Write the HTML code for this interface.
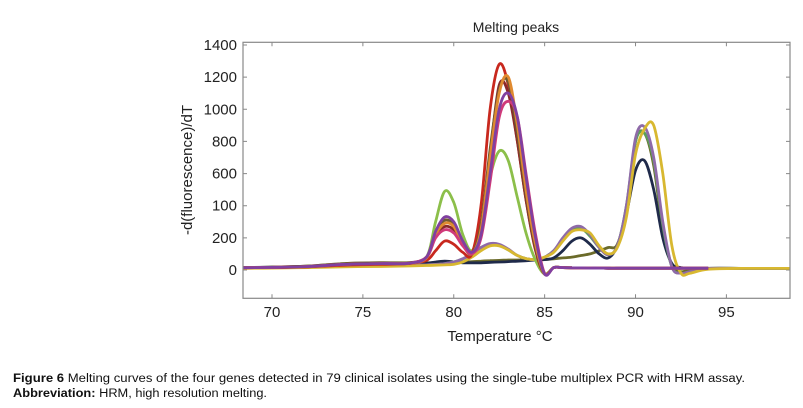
<!DOCTYPE html>
<html><head><meta charset="utf-8"><style>
body{margin:0;background:#fff;width:803px;height:408px;overflow:hidden}
svg{display:block}
</style></head><body>
<svg id="chart" width="803" height="408" font-family="Liberation Sans, sans-serif">
<text x="516" y="32" font-size="14" text-anchor="middle" fill="#222">Melting peaks</text>
<text transform="translate(192,170) rotate(-90)" font-size="15" text-anchor="middle" fill="#222">-d(fluorescence)/dT</text>
<text x="500" y="341" font-size="15" text-anchor="middle" fill="#222">Temperature °C</text>
<g id="axes"></g>
<g id="series" clip-path="url(#clip)"></g>
<defs><clipPath id="clip"><rect x="243" y="42" width="547" height="256"/></clipPath></defs>
<rect x="243" y="42.3" width="547" height="256" fill="none" stroke="#888" stroke-width="1.2"/>
<text x="13" y="382" font-size="11.5" fill="#111" textLength="732" lengthAdjust="spacingAndGlyphs"><tspan font-weight="bold">Figure 6</tspan> Melting curves of the four genes detected in 79 clinical isolates using the single-tube multiplex PCR with HRM assay.</text>
<text x="13" y="397" font-size="11.5" fill="#111" textLength="254" lengthAdjust="spacingAndGlyphs"><tspan font-weight="bold">Abbreviation:</tspan> HRM, high resolution melting.</text>
</svg>
<script>
const xTicks=[70,75,80,85,90,95];
const yTicks=[0,200,400,600,800,1000,1200,1400];
const yTickLabels=["0","200","100","600","800","1000","1200","1400"];
const temps=[68.4,70,72,74,76,77.5,78.5,79,79.5,80,80.5,81,81.5,82,82.5,83,83.5,84,84.5,85,85.5,86,86.5,87,87.5,88,88.5,89,89.5,90,90.5,91,91.5,92,92.5,93,94,96,98.5];
const tail=[12,15,15,14,13,12,12,11,11,11,11,11,11,11,11,11,11,11,11];
const redSeries=[15,15,20,30,35,40,60,120,180,160,110,100,400,1000,1280,1150,800,420,120,-25].concat(tail.slice(1));
const greenSeries=[15,15,20,35,40,45,80,300,490,420,220,120,280,580,740,680,450,220,60,-25].concat(tail.slice(1));
const oliveSeries=[15,18,25,40,45,45,80,230,310,280,160,100,280,750,1120,1170,850,450,140,-25].concat(tail.slice(1));
const orangeSeries=[14,16,22,35,40,42,75,220,290,270,160,100,250,700,1100,1200,900,480,160,-25].concat(tail.slice(1));
const purpleSeries=[14,16,22,35,40,42,80,240,330,300,180,110,220,600,1000,1100,950,560,200,-25].concat(tail.slice(1));
const pinkSeries=[14,16,22,35,40,42,80,200,250,230,150,100,200,550,950,1050,950,580,220,-20].concat(tail.slice(1));
const maroonSeries=[14,16,22,35,40,42,80,210,270,250,160,100,260,720,1150,1100,800,420,130,-25].concat(tail.slice(1));
const navySeries=[15,18,22,30,35,38,42,50,55,50,45,45,45,48,50,52,55,58,62,65,75,120,180,200,160,100,75,150,350,620,680,500,200,40,15,12,10,10,10];
const lavenderSeries=[15,15,18,25,28,30,32,35,40,50,70,100,140,165,160,130,90,70,65,80,120,200,260,270,220,140,95,150,400,820,890,700,300,20,-20,-10,10,10,10];
const yellowSeries=[10,12,15,20,22,25,28,30,32,35,50,80,120,150,150,125,90,70,65,80,110,180,240,250,230,150,100,140,330,720,880,900,600,150,-20,-20,5,10,10];
const olive2Series=[15,18,25,40,45,45,45,45,45,48,50,52,55,58,60,62,62,63,64,65,70,75,80,90,100,120,140,160,380,800,850,650,250,30,-10,0,10,10,10];
const green2Series=[15,15,18,25,28,30,32,35,40,50,70,100,140,160,155,125,90,70,65,80,120,190,250,260,210,140,95,150,400,800,850,680,280,20,-20,-10,10,10,10];
const seriesList=[
 ["olive2",olive2Series,"#6b6b2a"],["navy",navySeries,"#1f2a4a"],["green2",green2Series,"#5aa05a"],
 ["lavender",lavenderSeries,"#8e6aa8"],["yellow",yellowSeries,"#d8b830"],
 ["green",greenSeries,"#8cbf4a"],["red",redSeries,"#c8281e"],["maroon",maroonSeries,"#8a2a2a"],["olive",oliveSeries,"#6e5a30"],
 ["orange",orangeSeries,"#e08a30"],["pink",pinkSeries,"#d03a7a"],["purple",purpleSeries,"#8040a0"]
];
const X=t=>272+(t-70)*18.176;
const Y=v=>270-v*0.16071;
const ns="http://www.w3.org/2000/svg";
const axes=document.getElementById('axes');
xTicks.forEach(t=>{
 const x=X(t);
 const l=document.createElementNS(ns,'path');
 l.setAttribute('d',`M${x},298.3v-4M${x},42.3v4`);l.setAttribute('stroke','#888');
 
 
 axes.appendChild(l);
 const tx=document.createElementNS(ns,'text');
 tx.setAttribute('x',x);tx.setAttribute('y',317);tx.setAttribute('font-size','15');tx.setAttribute('text-anchor','middle');tx.setAttribute('fill','#222');
 tx.textContent=t;
 
 
 axes.appendChild(tx);
});
yTicks.forEach((v,i)=>{
 const y=Y(v);
 const l=document.createElementNS(ns,'path');
 l.setAttribute('d',`M243,${y}h4M790,${y}h-4`);l.setAttribute('stroke','#888');
 
 
 axes.appendChild(l);
 const tx=document.createElementNS(ns,'text');
 tx.setAttribute('x',237);tx.setAttribute('y',y+5);tx.setAttribute('font-size','15');tx.setAttribute('text-anchor','end');tx.setAttribute('fill','#222');
 tx.textContent=yTickLabels[i];
 
 
 axes.appendChild(tx);
});
function smooth(pts){
 let d=`M${pts[0][0]},${pts[0][1]}`;
 for(let i=0;i<pts.length-1;i++){
  const p0=pts[Math.max(i-1,0)],p1=pts[i],p2=pts[i+1],p3=pts[Math.min(i+2,pts.length-1)];
  const c1=[p1[0]+(p2[0]-p0[0])/6,p1[1]+(p2[1]-p0[1])/6];
  const c2=[p2[0]-(p3[0]-p1[0])/6,p2[1]-(p3[1]-p1[1])/6];
  d+=`C${c1[0].toFixed(1)},${c1[1].toFixed(1)} ${c2[0].toFixed(1)},${c2[1].toFixed(1)} ${p2[0].toFixed(1)},${p2[1].toFixed(1)}`;
 }
 return d;
}
const sg=document.getElementById('series');
seriesList.forEach(([name,vals,col])=>{
 const p=document.createElementNS(ns,'path');
 p.setAttribute('d',smooth(temps.map((t,i)=>[X(t),Y(vals[i])])));
 p.setAttribute('fill','none');p.setAttribute('stroke',col);p.setAttribute('stroke-width','2.8');p.setAttribute('stroke-linejoin','round');
 
 
 sg.appendChild(p);
});
</script>
</body></html>
